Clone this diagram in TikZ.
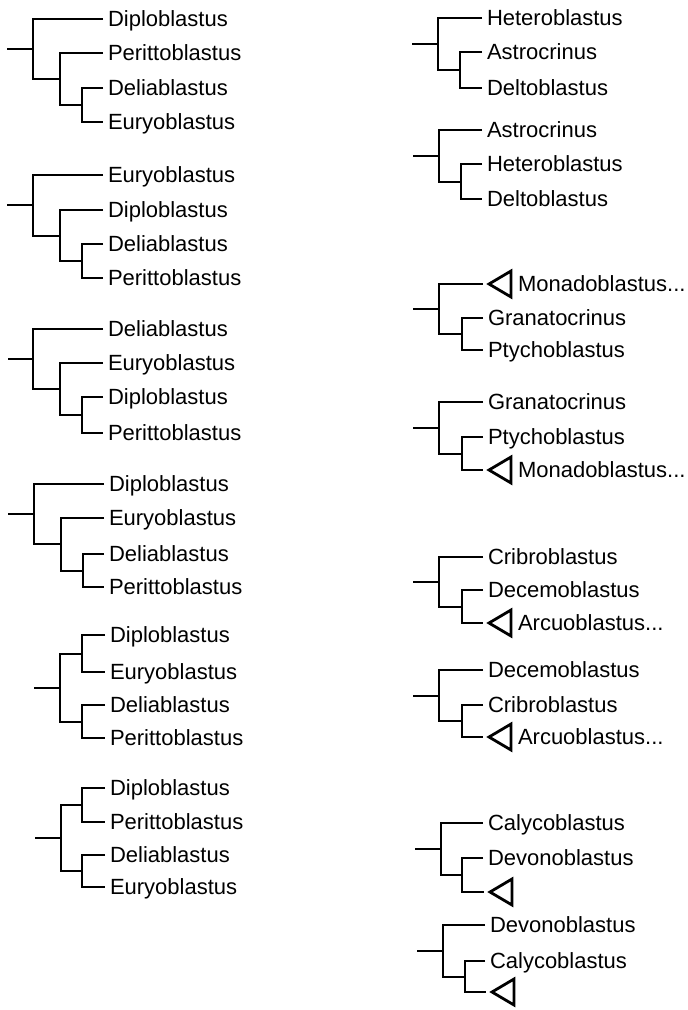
\documentclass[tikz,border=0pt]{standalone}
\usepackage{fontspec}
\setmainfont{Liberation Sans}
\tikzset{
  branch/.style={line width=1.4pt},
  taxon/.style={anchor=west, inner sep=0pt, outer xsep=2.5pt, outer ysep=0pt,
    text height=7.9pt, text depth=0pt, font=\fontsize{11}{13}\selectfont},
}
% collapsed clade, drawn just right of a leaf end
\newcommand{\clade}[1]{\draw[branch] ([xshift=3pt]#1) -- ++(22,-13) -- ++(0,26) -- cycle;}
\begin{document}
\begin{tikzpicture}[x=0.5pt, y=-0.5pt]
\useasboundingbox (0,0) rectangle (688,1010);
% left column
% tree L1
\node[taxon] (L1a) at (103,19) {Diploblastus};
\node[taxon] (L1b) at (103,53) {Perittoblastus};
\node[taxon] (L1c) at (103,88) {Deliablastus};
\node[taxon] (L1d) at (103,122) {Euryoblastus};
\coordinate (L1r) at (7,49);
\coordinate (L1x) at (33,49);
\coordinate (L1y) at (60,79);
\coordinate (L1z) at (82,105);
\draw[branch] (L1r) -- (L1x);
\draw[branch] (L1a) -| (L1x) |- (L1y);
\draw[branch] (L1b) -| (L1y) |- (L1z);
\draw[branch] (L1c) -| (L1z) |- (L1d);
% tree L2
\node[taxon] (L2a) at (103,175) {Euryoblastus};
\node[taxon] (L2b) at (103,210) {Diploblastus};
\node[taxon] (L2c) at (103,244) {Deliablastus};
\node[taxon] (L2d) at (103,278) {Perittoblastus};
\coordinate (L2r) at (7,205);
\coordinate (L2x) at (33,205);
\coordinate (L2y) at (60,236);
\coordinate (L2z) at (82,261);
\draw[branch] (L2r) -- (L2x);
\draw[branch] (L2a) -| (L2x) |- (L2y);
\draw[branch] (L2b) -| (L2y) |- (L2z);
\draw[branch] (L2c) -| (L2z) |- (L2d);
% tree L3
\node[taxon] (L3a) at (103,329) {Deliablastus};
\node[taxon] (L3b) at (103,363) {Euryoblastus};
\node[taxon] (L3c) at (103,397) {Diploblastus};
\node[taxon] (L3d) at (103,433) {Perittoblastus};
\coordinate (L3r) at (8,359);
\coordinate (L3x) at (33,359);
\coordinate (L3y) at (60,389);
\coordinate (L3z) at (82,415);
\draw[branch] (L3r) -- (L3x);
\draw[branch] (L3a) -| (L3x) |- (L3y);
\draw[branch] (L3b) -| (L3y) |- (L3z);
\draw[branch] (L3c) -| (L3z) |- (L3d);
% tree L4
\node[taxon] (L4a) at (104,484) {Diploblastus};
\node[taxon] (L4b) at (104,518) {Euryoblastus};
\node[taxon] (L4c) at (104,554) {Deliablastus};
\node[taxon] (L4d) at (104,587) {Perittoblastus};
\coordinate (L4r) at (8,514);
\coordinate (L4x) at (34,514);
\coordinate (L4y) at (61,544);
\coordinate (L4z) at (83,571);
\draw[branch] (L4r) -- (L4x);
\draw[branch] (L4a) -| (L4x) |- (L4y);
\draw[branch] (L4b) -| (L4y) |- (L4z);
\draw[branch] (L4c) -| (L4z) |- (L4d);
% tree L5
\node[taxon] (L5a) at (105,635) {Diploblastus};
\node[taxon] (L5b) at (105,672) {Euryoblastus};
\node[taxon] (L5c) at (105,705) {Deliablastus};
\node[taxon] (L5d) at (105,738) {Perittoblastus};
\coordinate (L5r) at (34,688);
\coordinate (L5x) at (60,688);
\coordinate (L5y) at (82,654);
\coordinate (L5z) at (82,722);
\draw[branch] (L5r) -- (L5x);
\draw[branch] (L5y) -| (L5x) |- (L5z);
\draw[branch] (L5a) -| (L5y) |- (L5b);
\draw[branch] (L5c) -| (L5z) |- (L5d);
% tree L6
\node[taxon] (L6a) at (105,788) {Diploblastus};
\node[taxon] (L6b) at (105,822) {Perittoblastus};
\node[taxon] (L6c) at (105,855) {Deliablastus};
\node[taxon] (L6d) at (105,887) {Euryoblastus};
\coordinate (L6r) at (35,838);
\coordinate (L6x) at (61,838);
\coordinate (L6y) at (82,805);
\coordinate (L6z) at (82,871);
\draw[branch] (L6r) -- (L6x);
\draw[branch] (L6y) -| (L6x) |- (L6z);
\draw[branch] (L6a) -| (L6y) |- (L6b);
\draw[branch] (L6c) -| (L6z) |- (L6d);
% right column
% tree R1
\node[taxon] (R1a) at (482,18) {Heteroblastus};
\node[taxon] (R1b) at (482,52) {Astrocrinus};
\node[taxon] (R1c) at (482,88) {Deltoblastus};
\coordinate (R1r) at (412,44);
\coordinate (R1x) at (438,44);
\coordinate (R1y) at (460,70);
\draw[branch] (R1r) -- (R1x);
\draw[branch] (R1a) -| (R1x) |- (R1y);
\draw[branch] (R1b) -| (R1y) |- (R1c);
% tree R2
\node[taxon] (R2a) at (482,130) {Astrocrinus};
\node[taxon] (R2b) at (482,164) {Heteroblastus};
\node[taxon] (R2c) at (482,199) {Deltoblastus};
\coordinate (R2r) at (413,156);
\coordinate (R2x) at (439,156);
\coordinate (R2y) at (461,182);
\draw[branch] (R2r) -- (R2x);
\draw[branch] (R2a) -| (R2x) |- (R2y);
\draw[branch] (R2b) -| (R2y) |- (R2c);
% tree R3
\coordinate (R3a) at (483,284);
\clade{R3a}
\node[taxon] (R3m) at (513,284) {Monadoblastus...};
\node[taxon] (R3b) at (483,318) {Granatocrinus};
\node[taxon] (R3c) at (483,350) {Ptychoblastus};
\coordinate (R3r) at (413,309);
\coordinate (R3x) at (439,309);
\coordinate (R3y) at (462,334);
\draw[branch] (R3r) -- (R3x);
\draw[branch] (R3a) -| (R3x) |- (R3y);
\draw[branch] (R3b) -| (R3y) |- (R3c);
% tree R4
\node[taxon] (R4a) at (483,402) {Granatocrinus};
\node[taxon] (R4b) at (483,437) {Ptychoblastus};
\coordinate (R4c) at (483,470);
\clade{R4c}
\node[taxon] (R4m) at (513,470) {Monadoblastus...};
\coordinate (R4r) at (413,428);
\coordinate (R4x) at (439,428);
\coordinate (R4y) at (462,454);
\draw[branch] (R4r) -- (R4x);
\draw[branch] (R4a) -| (R4x) |- (R4y);
\draw[branch] (R4b) -| (R4y) |- (R4c);
% tree R5
\node[taxon] (R5a) at (483,557) {Cribroblastus};
\node[taxon] (R5b) at (483,590) {Decemoblastus};
\coordinate (R5c) at (483,623);
\clade{R5c}
\node[taxon] (R5m) at (513,623) {Arcuoblastus...};
\coordinate (R5r) at (413,582);
\coordinate (R5x) at (439,582);
\coordinate (R5y) at (462,607);
\draw[branch] (R5r) -- (R5x);
\draw[branch] (R5a) -| (R5x) |- (R5y);
\draw[branch] (R5b) -| (R5y) |- (R5c);
% tree R6
\node[taxon] (R6a) at (483,670) {Decemoblastus};
\node[taxon] (R6b) at (483,705) {Cribroblastus};
\coordinate (R6c) at (483,737);
\clade{R6c}
\node[taxon] (R6m) at (513,737) {Arcuoblastus...};
\coordinate (R6r) at (413,696);
\coordinate (R6x) at (439,696);
\coordinate (R6y) at (462,721);
\draw[branch] (R6r) -- (R6x);
\draw[branch] (R6a) -| (R6x) |- (R6y);
\draw[branch] (R6b) -| (R6y) |- (R6c);
% tree R7
\node[taxon] (R7a) at (483,823) {Calycoblastus};
\node[taxon] (R7b) at (483,858) {Devonoblastus};
\coordinate (R7c) at (484,892);
\clade{R7c}
\coordinate (R7r) at (415,849);
\coordinate (R7x) at (441,849);
\coordinate (R7y) at (462,875);
\draw[branch] (R7r) -- (R7x);
\draw[branch] (R7a) -| (R7x) |- (R7y);
\draw[branch] (R7b) -| (R7y) |- (R7c);
% tree R8
\node[taxon] (R8a) at (485,925) {Devonoblastus};
\node[taxon] (R8b) at (485,961) {Calycoblastus};
\coordinate (R8c) at (486,992);
\clade{R8c}
\coordinate (R8r) at (417,951);
\coordinate (R8x) at (443,951);
\coordinate (R8y) at (465,977);
\draw[branch] (R8r) -- (R8x);
\draw[branch] (R8a) -| (R8x) |- (R8y);
\draw[branch] (R8b) -| (R8y) |- (R8c);
\end{tikzpicture}
\end{document}
